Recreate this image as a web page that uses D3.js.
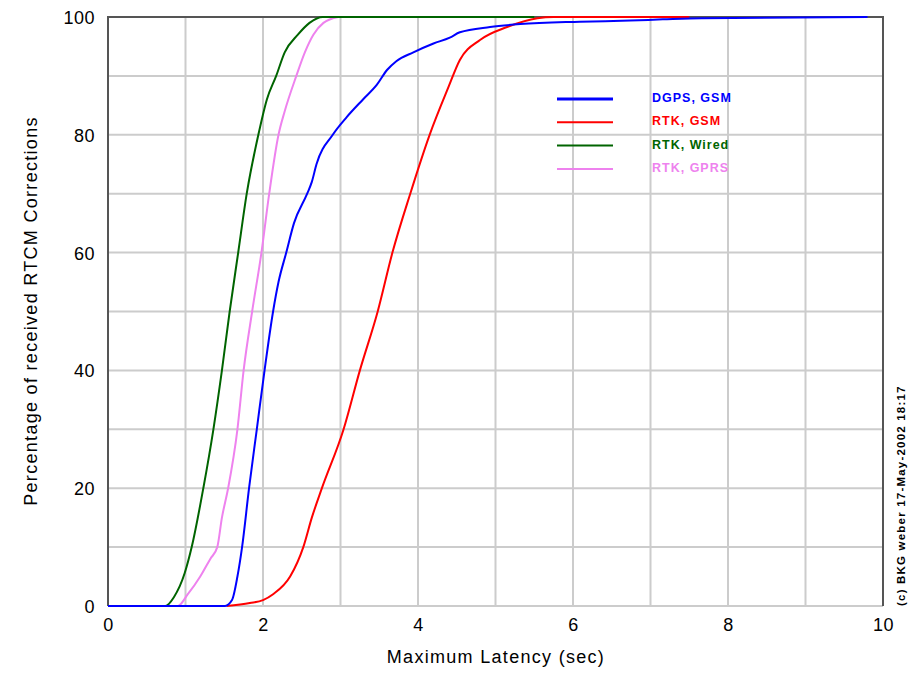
<!DOCTYPE html>
<html>
<head>
<meta charset="utf-8">
<script src="https://cdn.jsdelivr.net/npm/d3@7"></script>
<style>
  body { margin: 0; background: #fff; }
  text { font-family: "Liberation Sans", Arial, sans-serif; }
</style>
</head>
<body>
<svg id="root" width="913" height="676"></svg>
<script>
// series: [latency sec, percent]
const dgpsGsm = [[0,0],[1.51,0],[1.6,1],[1.67,5],[1.73,10],[1.82,20],[1.92,30],[2.02,40],[2.13,50],[2.2,55],[2.3,60],[2.4,65],[2.57,70],[2.63,72],[2.69,75],[2.9,80],[3.08,83],[3.29,86],[3.47,88.5],[3.6,91],[3.72,92.5],[3.94,94],[4.2,95.5],[4.41,96.5],[4.54,97.4],[4.93,98.3],[5.32,98.8],[6.09,99.2],[6.74,99.4],[7.16,99.6],[7.66,99.8],[9.8,100]];
const rtkGsm = [[1.53,0],[1.83,0.5],[2.0,1],[2.13,2],[2.35,5],[2.52,10],[2.63,15],[2.76,20],[3.04,30],[3.25,40],[3.48,50],[3.67,60],[3.9,70],[4.15,80],[4.39,88],[4.54,92.7],[4.8,96.1],[5.15,98.3],[5.54,99.8],[5.75,100],[7.5,100]];
const rtkWired = [[0,0],[0.74,0],[0.85,1.5],[0.99,5.6],[1.08,10],[1.23,20],[1.36,30],[1.47,40],[1.57,50],[1.68,60],[1.79,70],[1.94,80],[2.05,86],[2.17,90],[2.28,94],[2.45,97],[2.6,99],[2.77,100],[5.5,100]];
const rtkGprs = [[0,0],[0.9,0],[1.03,2],[1.19,5],[1.32,8],[1.41,10],[1.47,15],[1.55,20],[1.67,30],[1.75,40],[1.86,50],[1.98,60],[2.08,70],[2.2,80],[2.28,84],[2.43,90],[2.54,94],[2.65,97],[2.78,99],[2.97,100]];

const seriesNames = ['DGPS, GSM', 'RTK, GSM', 'RTK, Wired', 'RTK, GPRS'];
const xTicks = [0, 2, 4, 6, 8, 10];
const yTicks = [0, 20, 40, 60, 80, 100];

const root = d3.select('#root');
const plotLeft = 108, plotRight = 883, plotTop = 17, plotBottom = 606;

const x = d3.scaleLinear().domain([0, 10]).range([plotLeft, plotRight]);
const y = d3.scaleLinear().domain([0, 100]).range([plotBottom, plotTop]);

const colors = { 'DGPS, GSM': '#0000ff', 'RTK, GSM': '#ff0000', 'RTK, Wired': '#006400', 'RTK, GPRS': '#ee82ee' };
const dataByName = { 'DGPS, GSM': dgpsGsm, 'RTK, GSM': rtkGsm, 'RTK, Wired': rtkWired, 'RTK, GPRS': rtkGprs };

// grid
const grid = root.append('g');
grid.selectAll('line.gx')
    .data(d3.range(1, 10))
    .enter().append('line')
    .attr('x1', d => x(d)).attr('x2', d => x(d))
    .attr('y1', plotTop).attr('y2', plotBottom)
    .attr('stroke', '#cccccc').attr('stroke-width', 2);
grid.selectAll('line.gy')
    .data(d3.range(0, 100, 10))
    .enter().append('line')
    .attr('x1', plotLeft).attr('x2', plotRight)
    .attr('y1', d => y(d)).attr('y2', d => y(d))
    .attr('stroke', '#cccccc').attr('stroke-width', 2);

// frame
root.append('path')
    .attr('d', `M${plotLeft},${plotBottom}V${plotTop}H${plotRight}V${plotBottom}`)
    .attr('fill', 'none').attr('stroke', '#555').attr('stroke-width', 2);

// axes (labels only, no tick marks)
const xAxis = root.append('g')
    .attr('transform', `translate(0,${plotBottom})`)
    .call(d3.axisBottom(x).tickValues(xTicks).tickSize(0).tickPadding(0).tickFormat(d3.format('d')));
xAxis.select('.domain').remove();
xAxis.selectAll('text')
    .attr('dy', null).attr('y', 25)
    .attr('font-size', 18).attr('letter-spacing', 0.5).attr('fill', '#000')
    .attr('font-family', '"Liberation Sans", Arial, sans-serif');

const yAxis = root.append('g')
    .attr('transform', `translate(${plotLeft},0)`)
    .call(d3.axisLeft(y).tickValues(yTicks).tickSize(0).tickPadding(0).tickFormat(d3.format('d')));
yAxis.select('.domain').remove();
yAxis.selectAll('text')
    .attr('x', -13).attr('dy', '0.36em')
    .attr('font-size', 18).attr('letter-spacing', 0.5).attr('fill', '#000')
    .attr('font-family', '"Liberation Sans", Arial, sans-serif');

// curves
const line = d3.line()
    .x(d => x(d[0]))
    .y(d => y(d[1]))
    .curve(d3.curveMonotoneX);

const drawOrder = ['RTK, GPRS', 'RTK, Wired', 'RTK, GSM', 'DGPS, GSM'];
root.selectAll('path.curve')
    .data(drawOrder)
    .enter().append('path')
    .attr('class', 'curve')
    .attr('d', d => line(dataByName[d]))
    .attr('fill', 'none')
    .attr('stroke', d => colors[d])
    .attr('stroke-width', 2);

// legend
const legend = root.append('g');
const rows = legend.selectAll('g')
    .data(seriesNames)
    .enter().append('g')
    .attr('transform', (d, i) => `translate(557,${99 + i * 23.3})`);
rows.append('line')
    .attr('x1', 0).attr('x2', 56)
    .attr('stroke', d => colors[d])
    .attr('stroke-width', (d, i) => i === 0 ? 3 : 2);
rows.append('text')
    .attr('x', 95).attr('y', 3)
    .attr('font-size', 12.5).attr('font-weight', 'bold')
    .attr('letter-spacing', 1)
    .attr('fill', d => colors[d])
    .text(d => d);

// titles
root.append('text')
    .attr('x', 496).attr('y', 663)
    .attr('text-anchor', 'middle')
    .attr('font-size', 18).attr('letter-spacing', 1.3)
    .text('Maximum Latency (sec)');

root.append('text')
    .attr('transform', 'translate(37,311) rotate(-90)')
    .attr('text-anchor', 'middle')
    .attr('font-size', 18).attr('letter-spacing', 1.3)
    .text('Percentage of received RTCM Corrections');

root.append('text')
    .attr('transform', 'translate(905,606) rotate(-90)')
    .attr('font-size', 11.5).attr('font-weight', 'bold')
    .attr('letter-spacing', 1.2)
    .text('(c) BKG weber 17-May-2002 18:17');
</script>
</body>
</html>
